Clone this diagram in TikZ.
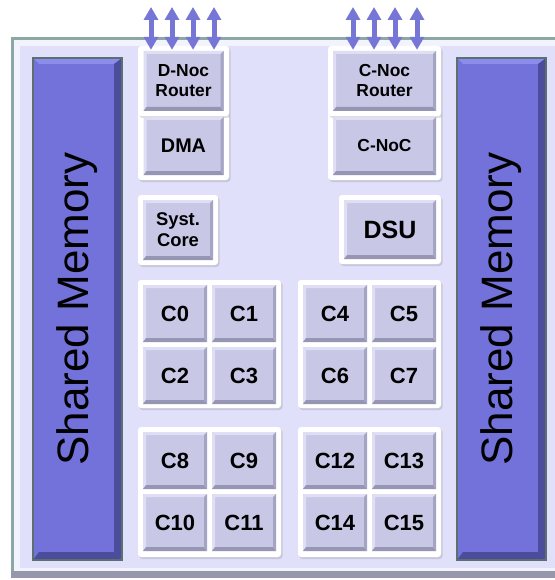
\documentclass[tikz,border=0pt]{standalone}
\usepackage{fontspec}
\setmainfont{Liberation Sans}
\usetikzlibrary{arrows.meta,shadows}
\definecolor{chipfill}{RGB}{224,224,250}
\definecolor{chipedge}{RGB}{140,168,162}
\definecolor{chipbase}{RGB}{150,150,172}
\definecolor{unitfill}{RGB}{200,200,230}
\definecolor{unitlight}{RGB}{222,222,244}
\definecolor{unitdark}{RGB}{150,150,180}
\definecolor{memfill}{RGB}{114,114,218}
\definecolor{memedge}{RGB}{92,112,112}
\definecolor{memdark}{RGB}{76,76,156}
\definecolor{memlight}{RGB}{140,140,236}
\definecolor{busfill}{RGB}{118,118,214}
\tikzset{
	frame/.style={fill=white, rounded corners=3pt, inner sep=0pt,
		drop shadow={opacity=0.25, shadow xshift=1.5pt, shadow yshift=-2pt}},
	unit/.style={fill=unitfill, inner sep=0pt, align=center, font=\bfseries,
		path picture={
			\fill[unitlight] (path picture bounding box.north west) -- (path picture bounding box.north east)
				-- ([shift={(-3pt,-3pt)}]path picture bounding box.north east) -- ([shift={(3pt,-3pt)}]path picture bounding box.north west) -- cycle;
			\fill[unitlight] (path picture bounding box.north west) -- (path picture bounding box.south west)
				-- ([shift={(3pt,3pt)}]path picture bounding box.south west) -- ([shift={(3pt,-3pt)}]path picture bounding box.north west) -- cycle;
			\fill[unitdark] (path picture bounding box.south west) -- (path picture bounding box.south east)
				-- ([shift={(-3pt,4pt)}]path picture bounding box.south east) -- ([shift={(3pt,4pt)}]path picture bounding box.south west) -- cycle;
			\fill[unitdark!70!unitfill] (path picture bounding box.south east) -- (path picture bounding box.north east)
				-- ([shift={(-3pt,-3pt)}]path picture bounding box.north east) -- ([shift={(-3pt,4pt)}]path picture bounding box.south east) -- cycle;
		}},
	membar/.style={fill=memfill, draw=memedge, line width=2pt, inner sep=0pt,
		path picture={
			\fill[memlight] (path picture bounding box.north west) -- (path picture bounding box.north east)
				-- ([shift={(-6pt,-6pt)}]path picture bounding box.north east) -- ([shift={(6pt,-6pt)}]path picture bounding box.north west) -- cycle;
			\fill[memdark] (path picture bounding box.south west) -- (path picture bounding box.south east)
				-- ([shift={(-8pt,8pt)}]path picture bounding box.south east) -- ([shift={(6pt,8pt)}]path picture bounding box.south west) -- cycle;
			\fill[memdark] (path picture bounding box.south east) -- (path picture bounding box.north east)
				-- ([shift={(-8pt,-6pt)}]path picture bounding box.north east) -- ([shift={(-8pt,8pt)}]path picture bounding box.south east) -- cycle;
		}},
	memtext/.style={rotate=90, font=\fontsize{44}{48}\selectfont},
	smallfont/.style={font=\fontsize{17.4}{20}\selectfont\bfseries},
	corefont/.style={font=\fontsize{22}{24}\selectfont\bfseries},
	bus/.style={draw=busfill, line width=5pt, {Triangle[width=14pt,length=13pt]}-{Triangle[width=14pt,length=13pt]}}
}
\begin{document}
\begin{tikzpicture}[x=1pt, y=-1pt]
	\useasboundingbox (0,0) rectangle (554,580);
	% chip
	\fill[chipbase] (11,37) rectangle (560,578);
	\fill[chipedge] (11,37) rectangle (560,571);
	\fill[white!60!chipfill] (14,40) rectangle (560,571);
	\fill[chipfill] (20,46) rectangle (560,568);
	% shared memories
	\node[membar, minimum width=89pt, minimum height=502pt] (memL) at (77.5,309) {};
	\node[membar, minimum width=89pt, minimum height=502pt] (memR) at (501.5,309) {};
	\node[memtext] (memLtxt) at (memL) {Shared Memory};
	\node[memtext] (memRtxt) at (memR) {Shared Memory};
	% frames
	\node[frame, minimum width=91pt, minimum height=68pt] (dmaF) at (183.5,146) {};
	\node[frame, minimum width=91pt, minimum height=70pt] (dnocF) at (183.5,81) {};
	\node[frame, minimum width=113pt, minimum height=68pt] (cnF) at (384.5,146) {};
	\node[frame, minimum width=113pt, minimum height=70pt] (cnocF) at (384.5,81) {};
	\node[frame, minimum width=80pt, minimum height=70pt] (syscF) at (178,230) {};
	\node[frame, minimum width=102pt, minimum height=69pt] (dsuF) at (390,229.5) {};
	\node[frame, minimum width=143pt, minimum height=128pt] (grpA) at (209.5,344) {};
	\node[frame, minimum width=143pt, minimum height=128pt] (grpB) at (369.5,344) {};
	\node[frame, minimum width=143pt, minimum height=130pt] (grpC) at (209.5,492) {};
	\node[frame, minimum width=143pt, minimum height=130pt] (grpD) at (369.5,492) {};
	% units
	\node[unit, smallfont, minimum width=80pt, minimum height=60pt] (dnoc) at (dnocF) {D-Noc\\Router};
	\node[unit, font=\fontsize{19.8}{22}\selectfont\bfseries, minimum width=80pt, minimum height=58pt] (dma) at (dmaF) {DMA};
	\node[unit, smallfont, minimum width=103pt, minimum height=60pt] (cnoc) at (cnocF) {C-Noc\\Router};
	\node[unit, smallfont, minimum width=103pt, minimum height=58pt] (cn) at (cnF) {C-NoC};
	\node[unit, font=\fontsize{18.4}{21}\selectfont\bfseries, minimum width=70pt, minimum height=60pt] (sysc) at (syscF) {Syst.\\Core};
	\node[unit, font=\fontsize{25}{28}\selectfont\bfseries, minimum width=92pt, minimum height=59pt] (dsu) at (dsuF) {DSU};
	% cores
	\node[unit, corefont, minimum width=64pt, minimum height=57pt] (c0) at (175,313.5) {C0};
	\node[unit, corefont, minimum width=64pt, minimum height=57pt] (c1) at (244,313.5) {C1};
	\node[unit, corefont, minimum width=64pt, minimum height=57pt] (c2) at (175,375.5) {C2};
	\node[unit, corefont, minimum width=64pt, minimum height=57pt] (c3) at (244,375.5) {C3};
	\node[unit, corefont, minimum width=64pt, minimum height=57pt] (c4) at (335,313.5) {C4};
	\node[unit, corefont, minimum width=64pt, minimum height=57pt] (c5) at (404,313.5) {C5};
	\node[unit, corefont, minimum width=64pt, minimum height=57pt] (c6) at (335,375.5) {C6};
	\node[unit, corefont, minimum width=64pt, minimum height=57pt] (c7) at (404,375.5) {C7};
	\node[unit, corefont, minimum width=64pt, minimum height=57pt] (c8) at (175,460.5) {C8};
	\node[unit, corefont, minimum width=64pt, minimum height=57pt] (c9) at (244,460.5) {C9};
	\node[unit, corefont, minimum width=64pt, minimum height=57pt] (c10) at (175,522.5) {C10};
	\node[unit, corefont, minimum width=64pt, minimum height=57pt] (c11) at (244,522.5) {C11};
	\node[unit, corefont, minimum width=64pt, minimum height=57pt] (c12) at (335,460.5) {C12};
	\node[unit, corefont, minimum width=64pt, minimum height=57pt] (c13) at (404,460.5) {C13};
	\node[unit, corefont, minimum width=64pt, minimum height=57pt] (c14) at (335,522.5) {C14};
	\node[unit, corefont, minimum width=64pt, minimum height=57pt] (c15) at (404,522.5) {C15};
	% router links
	\coordinate (dl1) at (151,7);
	\coordinate (dl2) at (172,7);
	\coordinate (dl3) at (193,7);
	\coordinate (dl4) at (214,7);
	\coordinate (cl1) at (353,7);
	\coordinate (cl2) at (374,7);
	\coordinate (cl3) at (395,7);
	\coordinate (cl4) at (417,7);
	\draw[bus, shorten >=-4pt] (dl1) -- (dl1 |- dnocF.north);
	\draw[bus, shorten >=-4pt] (dl2) -- (dl2 |- dnocF.north);
	\draw[bus, shorten >=-4pt] (dl3) -- (dl3 |- dnocF.north);
	\draw[bus, shorten >=-4pt] (dl4) -- (dl4 |- dnocF.north);
	\draw[bus, shorten >=-4pt] (cl1) -- (cl1 |- cnocF.north);
	\draw[bus, shorten >=-4pt] (cl2) -- (cl2 |- cnocF.north);
	\draw[bus, shorten >=-4pt] (cl3) -- (cl3 |- cnocF.north);
	\draw[bus, shorten >=-4pt] (cl4) -- (cl4 |- cnocF.north);
\end{tikzpicture}
\end{document}
